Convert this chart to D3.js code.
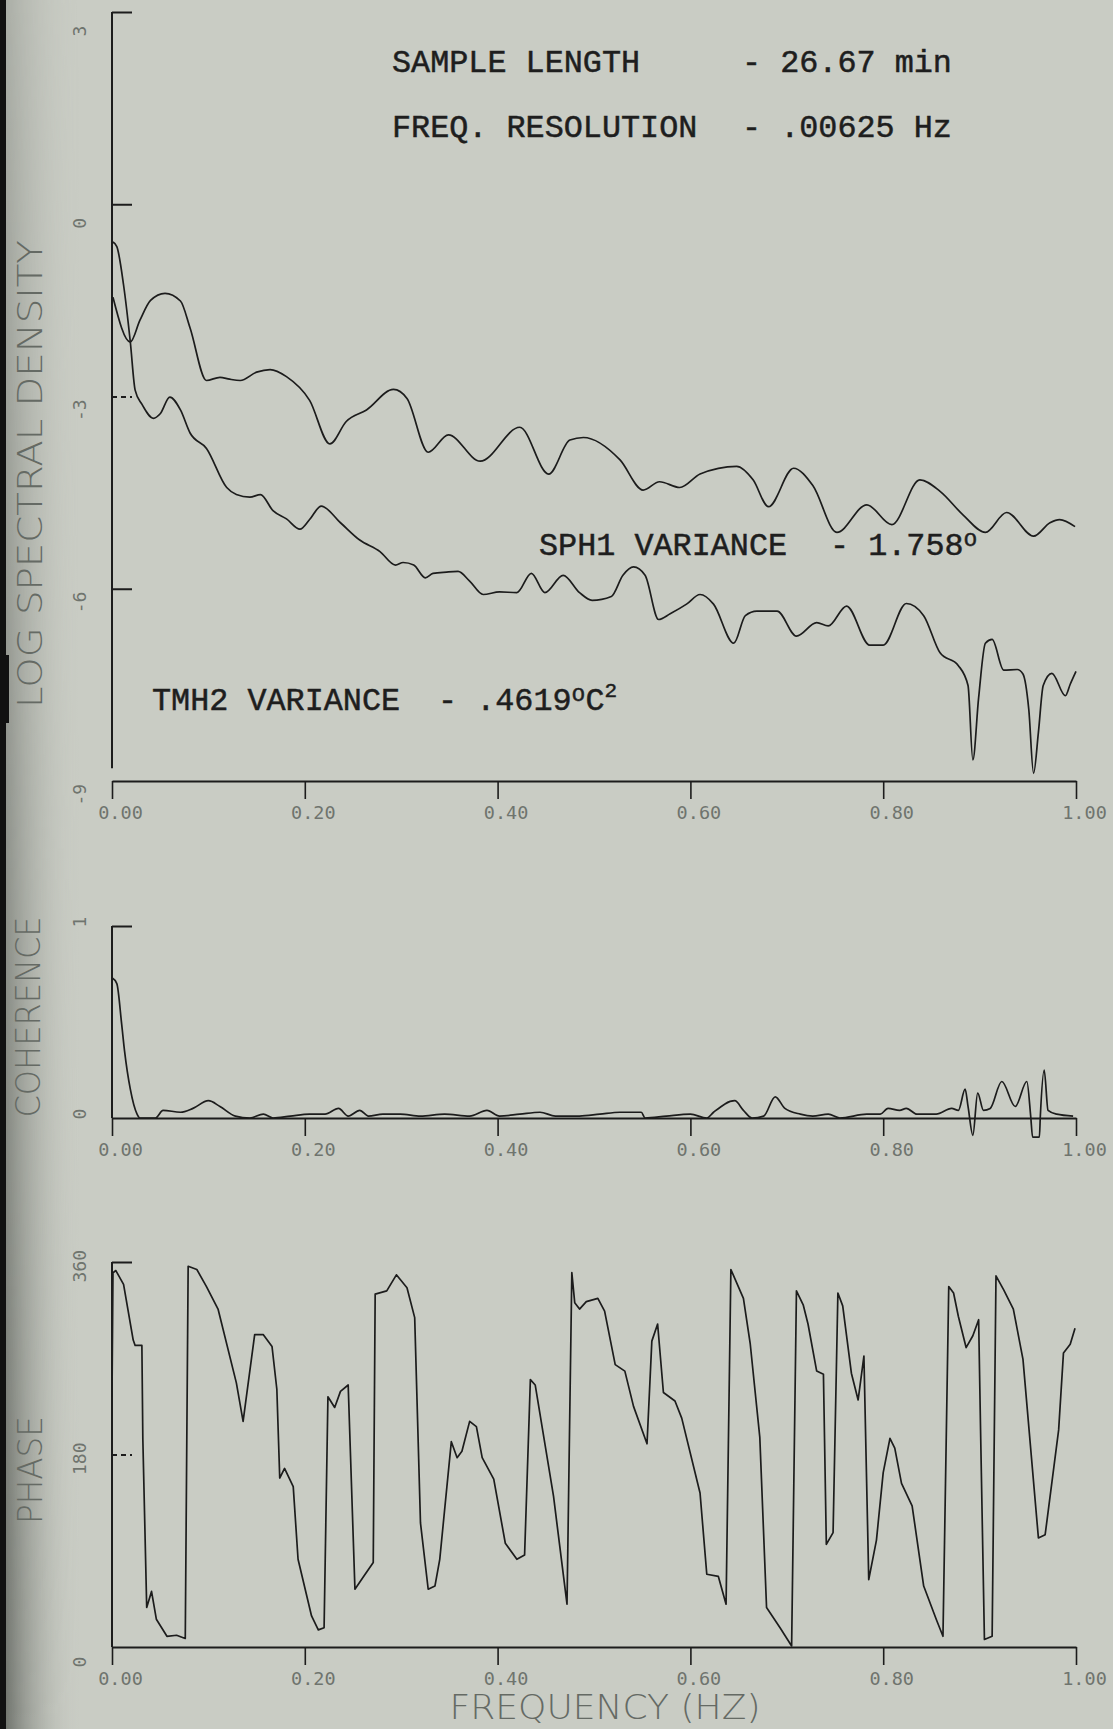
<!DOCTYPE html>
<html>
<head>
<meta charset="utf-8">
<script src="https://cdn.jsdelivr.net/npm/d3@7"></script>
<style>
  body { margin: 0; background: #c9ccc4; }
  svg { display: block; }
</style>
</head>
<body>
<script>
// ---------------------------------
// Data  [freq Hz, value]
// ---------------------------------
const freqTicks = [0, 0.2, 0.4, 0.6, 0.8, 1.0];
const freqLabels = ["0.00", "0.20", "0.40", "0.60", "0.80", "1.00"];

const spectrumTicks = [3, 0, -3, -6, -9];
const coherenceTicks = [1, 0];
const phaseTicks = [360, 180, 0];

// upper curve (SPH1), log spectral density
const sph1Spectrum = [
  [0.001, -1.45], [0.019, -2.15], [0.029, -1.81], [0.040, -1.50], [0.055, -1.39],
  [0.071, -1.51], [0.081, -1.93], [0.098, -2.75], [0.112, -2.70], [0.122, -2.73],
  [0.133, -2.75], [0.150, -2.62], [0.164, -2.58], [0.181, -2.69], [0.205, -3.06],
  [0.226, -3.74], [0.243, -3.39], [0.264, -3.21], [0.292, -2.89], [0.306, -3.03],
  [0.328, -3.87], [0.349, -3.60], [0.382, -4.01], [0.423, -3.48], [0.453, -4.21],
  [0.475, -3.68], [0.489, -3.64], [0.527, -3.99], [0.551, -4.46], [0.568, -4.33],
  [0.589, -4.42], [0.610, -4.21], [0.648, -4.09], [0.665, -4.30], [0.681, -4.72],
  [0.707, -4.12], [0.727, -4.39], [0.752, -5.12], [0.783, -4.69], [0.809, -5.00],
  [0.838, -4.30], [0.859, -4.48], [0.883, -4.85], [0.906, -5.12], [0.928, -4.81],
  [0.956, -5.18], [0.973, -4.97], [0.983, -4.92], [0.999, -5.03]
];

// lower curve (TMH2), log spectral density
const tmh2Spectrum = [
  [0.001, -0.59], [0.005, -0.66], [0.012, -1.26], [0.019, -2.15], [0.024, -2.90],
  [0.031, -3.12], [0.043, -3.34], [0.050, -3.27], [0.060, -3.01], [0.071, -3.21],
  [0.081, -3.57], [0.098, -3.81], [0.119, -4.42], [0.129, -4.53], [0.143, -4.57],
  [0.154, -4.53], [0.167, -4.78], [0.181, -4.91], [0.195, -5.07], [0.205, -4.92],
  [0.217, -4.71], [0.237, -4.97], [0.257, -5.24], [0.278, -5.42], [0.294, -5.63],
  [0.302, -5.59], [0.313, -5.63], [0.325, -5.83], [0.333, -5.76], [0.347, -5.74],
  [0.359, -5.73], [0.371, -5.88], [0.385, -6.09], [0.402, -6.05], [0.420, -6.06],
  [0.435, -5.76], [0.449, -6.06], [0.468, -5.79], [0.485, -6.06], [0.498, -6.18],
  [0.518, -6.12], [0.530, -5.79], [0.541, -5.66], [0.553, -5.79], [0.567, -6.48],
  [0.579, -6.39], [0.596, -6.24], [0.610, -6.09], [0.624, -6.24], [0.645, -6.85],
  [0.657, -6.42], [0.669, -6.35], [0.690, -6.35], [0.710, -6.74], [0.731, -6.53],
  [0.743, -6.58], [0.762, -6.27], [0.786, -6.88], [0.800, -6.88], [0.824, -6.23],
  [0.842, -6.42], [0.859, -7.00], [0.878, -7.20], [0.888, -7.51], [0.893, -8.67],
  [0.899, -7.70], [0.906, -6.85], [0.913, -6.79], [0.925, -7.27], [0.939, -7.26],
  [0.945, -7.33], [0.951, -7.88], [0.956, -8.88], [0.961, -8.24], [0.966, -7.51],
  [0.975, -7.32], [0.989, -7.67], [0.994, -7.49], [1.000, -7.29]
];

const coherence = [
  [0.000, 0.73], [0.005, 0.70], [0.010, 0.49], [0.013, 0.35], [0.019, 0.15],
  [0.026, 0.02], [0.029, 0.00], [0.045, 0.00], [0.053, 0.04], [0.071, 0.03],
  [0.084, 0.05], [0.100, 0.09], [0.112, 0.06], [0.128, 0.01], [0.143, 0.00],
  [0.157, 0.02], [0.167, 0.00], [0.185, 0.01], [0.205, 0.02], [0.221, 0.02],
  [0.235, 0.05], [0.245, 0.01], [0.257, 0.04], [0.266, 0.01], [0.281, 0.02],
  [0.299, 0.02], [0.320, 0.01], [0.345, 0.02], [0.371, 0.01], [0.389, 0.04],
  [0.402, 0.01], [0.423, 0.02], [0.444, 0.03], [0.460, 0.01], [0.485, 0.01],
  [0.506, 0.02], [0.527, 0.03], [0.549, 0.03], [0.553, 0.00], [0.575, 0.01],
  [0.600, 0.02], [0.617, 0.00], [0.624, 0.03], [0.646, 0.09], [0.655, 0.04],
  [0.664, 0.00], [0.676, 0.01], [0.688, 0.11], [0.698, 0.05], [0.714, 0.02],
  [0.727, 0.01], [0.743, 0.02], [0.755, 0.00], [0.783, 0.02], [0.797, 0.02],
  [0.805, 0.05], [0.817, 0.04], [0.824, 0.05], [0.835, 0.02], [0.855, 0.02],
  [0.871, 0.05], [0.878, 0.04], [0.885, 0.15], [0.888, 0.06], [0.893, -0.09],
  [0.898, 0.13], [0.904, 0.04], [0.911, 0.05], [0.923, 0.19], [0.937, 0.06],
  [0.949, 0.19], [0.953, 0.01], [0.955, -0.10], [0.962, -0.10], [0.963, 0.01],
  [0.967, 0.25], [0.971, 0.04], [0.980, 0.02], [0.997, 0.01]
];

// phase in degrees
const phase = [
  [0.000, 234], [0.001, 350], [0.004, 352], [0.012, 339], [0.022, 287],
  [0.024, 282], [0.031, 282], [0.032, 194], [0.036, 37], [0.041, 52],
  [0.046, 26], [0.057, 10], [0.067, 11], [0.076, 8], [0.079, 356],
  [0.088, 353], [0.098, 337], [0.110, 316], [0.129, 247], [0.136, 211],
  [0.148, 292], [0.157, 292], [0.166, 281], [0.171, 241], [0.174, 158],
  [0.179, 167], [0.188, 150], [0.193, 82], [0.207, 29], [0.214, 16],
  [0.220, 18], [0.224, 234], [0.231, 224], [0.237, 239], [0.245, 245],
  [0.252, 54], [0.261, 66], [0.271, 79], [0.273, 330], [0.285, 333],
  [0.295, 348], [0.306, 336], [0.314, 308], [0.320, 116], [0.328, 54],
  [0.335, 57], [0.340, 82], [0.352, 192], [0.358, 177], [0.363, 183],
  [0.371, 211], [0.378, 206], [0.384, 177], [0.396, 157], [0.408, 97],
  [0.420, 82], [0.428, 86], [0.434, 250], [0.439, 245], [0.458, 141],
  [0.472, 40], [0.477, 350], [0.480, 322], [0.485, 316], [0.492, 323],
  [0.504, 326], [0.511, 314], [0.522, 264], [0.532, 258], [0.541, 225],
  [0.555, 190], [0.560, 286], [0.566, 302], [0.572, 238], [0.584, 230],
  [0.591, 214], [0.610, 144], [0.617, 68], [0.629, 66], [0.637, 40],
  [0.642, 353], [0.655, 326], [0.662, 284], [0.672, 196], [0.679, 37],
  [0.693, 18], [0.705, 1], [0.710, 333], [0.717, 320], [0.722, 302],
  [0.731, 258], [0.738, 255], [0.741, 96], [0.748, 107], [0.753, 331],
  [0.758, 319], [0.767, 256], [0.774, 231], [0.780, 272], [0.785, 63],
  [0.793, 100], [0.800, 163], [0.807, 195], [0.812, 186], [0.819, 153],
  [0.830, 132], [0.842, 57], [0.855, 26], [0.862, 10], [0.868, 337],
  [0.873, 331], [0.878, 309], [0.886, 280], [0.893, 291], [0.899, 306],
  [0.901, 203], [0.905, 7], [0.913, 10], [0.917, 347], [0.925, 334],
  [0.935, 316], [0.945, 269], [0.961, 102], [0.968, 105], [0.982, 203],
  [0.987, 275], [0.994, 283], [0.999, 298]
];

const infoLabels = ["SAMPLE LENGTH", "FREQ. RESOLUTION"];
const infoValues = ["- 26.67 min", "- .00625 Hz"];

// -------------------------------
// Page setup
// -------------------------------
const W = 1113, H = 1729;
const paper = "#c9ccc4";
const ink = "#1c1c1c";
const plotterGrey = "#6f746e";

const svg = d3.select("body").append("svg")
    .attr("width", W)
    .attr("height", H);

// scanner shading along the left edge, darker towards the bottom
const defs = svg.append("defs");
const edge = defs.append("linearGradient").attr("id", "edge").attr("x1", 0).attr("x2", 1);
edge.append("stop").attr("offset", 0).attr("stop-color", "#575b55").attr("stop-opacity", 0.9);
edge.append("stop").attr("offset", 1).attr("stop-color", paper).attr("stop-opacity", 0);
const fade = defs.append("linearGradient").attr("id", "fade")
    .attr("x1", 0).attr("x2", 0).attr("y1", 0).attr("y2", 1);
fade.append("stop").attr("offset", 0).attr("stop-color", "#fff").attr("stop-opacity", 0.35);
fade.append("stop").attr("offset", 1).attr("stop-color", "#fff").attr("stop-opacity", 1);
defs.append("mask").attr("id", "edgeMask")
  .append("rect").attr("width", 80).attr("height", H).attr("fill", "url(#fade)");

svg.append("rect").attr("width", W).attr("height", H).attr("fill", paper);
svg.append("rect").attr("width", 80).attr("height", H)
    .attr("fill", "url(#edge)").attr("mask", "url(#edgeMask)");
svg.append("rect").attr("width", 6).attr("height", H).attr("fill", "#111");
svg.append("rect").attr("y", 655).attr("width", 9).attr("height", 68).attr("fill", "#111");

const x = d3.scaleLinear().domain([0, 1]).range([112, 1076]);

// -------------------------------
// One panel: axes + tick labels
// -------------------------------
function drawPanel(y, ticks, tickLabel, labelShift, axisEnd, dashedTick) {
  const g = svg.append("g").attr("color", ink);
  const base = y(y.domain()[0]);

  // x axis with downward ticks
  const xa = g.append("g")
      .attr("transform", `translate(0,${base})`)
      .call(d3.axisBottom(x)
        .tickValues(freqTicks)
        .tickFormat((d, i) => freqLabels[i])
        .tickSize(18)
        .tickSizeOuter(0)
        .tickPadding(7));
  xa.select(".domain").attr("stroke-width", 2);
  xa.selectAll(".tick line").attr("stroke-width", 1.6);
  xa.selectAll("text")
      .attr("dx", 8)
      .attr("fill", plotterGrey)
      .attr("font-family", "'DejaVu Sans Mono', monospace")
      .attr("font-size", 18.5);

  // y axis, ticks pointing into the plot
  const ya = g.append("g")
      .attr("transform", `translate(${x(0)},0)`)
      .call(d3.axisLeft(y).tickValues(ticks).tickFormat(tickLabel).tickSize(-20));
  ya.select(".domain").remove();
  ya.selectAll(".tick line").attr("stroke-width", 2)
      .attr("stroke-dasharray", d => d === dashedTick ? "5,4" : null);
  ya.selectAll(".tick").filter(d => d === y.domain()[0]).select("line").remove();
  ya.selectAll("text")
      .attr("x", null).attr("dy", "0.35em")
      .attr("transform", `translate(-32,${labelShift}) rotate(-90)`)
      .attr("text-anchor", "start")
      .attr("fill", plotterGrey)
      .attr("font-family", "'DejaVu Sans Mono', monospace")
      .attr("font-size", 18);

  g.append("line")
      .attr("x1", x(0)).attr("x2", x(0))
      .attr("y1", y(y.domain()[1])).attr("y2", y(axisEnd))
      .attr("stroke", ink).attr("stroke-width", 2);
}

function plotLine(data, y, curve) {
  svg.append("path")
      .datum(data)
      .attr("fill", "none")
      .attr("stroke", ink)
      .attr("stroke-width", 1.7)
      .attr("stroke-linejoin", "round")
      .attr("d", d3.line().x(d => x(d[0])).y(d => y(d[1])).curve(curve));
}

function axisTitle(text, cx, cy, len, size, rotate) {
  svg.append("text")
      .attr("transform", `translate(${cx},${cy})` + (rotate ? " rotate(-90)" : ""))
      .attr("text-anchor", "middle")
      .attr("font-family", "'DejaVu Sans', sans-serif")
      .attr("font-weight", 200)
      .attr("font-size", size)
      .attr("fill", "#656a64")
      .attr("textLength", len)
      .attr("lengthAdjust", "spacingAndGlyphs")
      .text(text);
}

// -------------------------------
// Spectrum panel
// -------------------------------
const ySpec = d3.scaleLinear().domain([-9, 3]).range([781, 12]);
drawPanel(ySpec, spectrumTicks, d => d, 24, -8.8, -3);
plotLine(sph1Spectrum, ySpec, d3.curveMonotoneX);
plotLine(tmh2Spectrum, ySpec, d3.curveMonotoneX);

// -------------------------------
// Coherence panel
// -------------------------------
const yCoh = d3.scaleLinear().domain([0, 1]).range([1118, 926]);
drawPanel(yCoh, coherenceTicks, d => d, 1, 0, null);
plotLine(coherence, yCoh, d3.curveMonotoneX);

// -------------------------------
// Phase panel
// -------------------------------
const yPh = d3.scaleLinear().domain([0, 360]).range([1647, 1262]);
drawPanel(yPh, phaseTicks, d => d, 20, 0, 180);
plotLine(phase, yPh, d3.curveLinear);

// axis titles (plotter lettering)
axisTitle("LOG SPECTRAL DENSITY", 42, 474, 468, 34, true);
axisTitle("COHERENCE", 40, 1017, 201, 34, true);
axisTitle("PHASE", 42, 1470, 108, 34, true);
axisTitle("FREQUENCY (HZ)", 605, 1719, 311, 33, false);

// -------------------------------
// Typed annotations
// -------------------------------
const typeFont = "'Liberation Mono', 'Courier New', monospace";
const typeSize = 31.8;

function typed(str, tx, ty) {
  return svg.append("text")
      .attr("x", tx).attr("y", ty)
      .attr("font-family", typeFont)
      .attr("font-size", typeSize)
      .attr("fill", "#1e1e1e")
      .attr("stroke", "#1e1e1e")
      .attr("stroke-width", 0.5)
      .text(str);
}

infoLabels.forEach((s, i) => {
  typed(s, 392, 72 + i * 65);
  typed(infoValues[i], 742, 72 + i * 65);
});

typed("SPH1 VARIANCE", 539, 555);
const sph = typed("- 1.758", 830, 555);
sph.append("tspan").attr("font-size", 23).attr("dy", -9).text("o");

typed("TMH2 VARIANCE", 152, 710);
const tmh = typed("- .4619", 438, 710);
tmh.append("tspan").attr("font-size", 23).attr("dy", -9).text("o");
tmh.append("tspan").attr("dy", 9).text("C");
tmh.append("tspan").attr("font-size", 21).attr("dy", -13).text("2");
</script>
</body>
</html>
